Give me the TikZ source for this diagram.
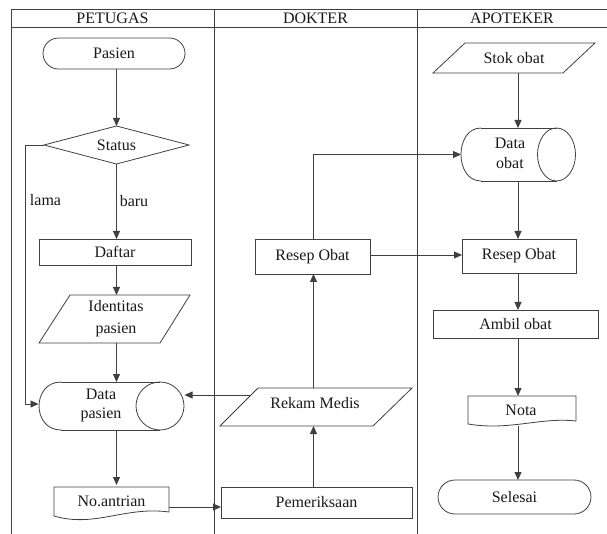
\documentclass[tikz,border=0pt]{standalone}
\usepackage{fontspec}
\setmainfont{Liberation Serif}
\usetikzlibrary{arrows.meta,calc}
\begin{document}
\begin{tikzpicture}[x=1pt,y=-1pt,
  line/.style={draw=black!75,line width=0.8pt},
  arr/.style={line,-{Triangle[length=8pt,width=7pt]}},
  txt/.style={font=\fontsize{16}{20}\selectfont,text=black!90,align=center,inner sep=0pt},
  anchorbox/.style={draw=none,inner sep=0pt,outer sep=0pt},
  rectbox/.style={line,inner sep=0pt,outer sep=0pt,txt}
]
\useasboundingbox (0,0) rectangle (607,534);
% frame
\draw[line] (620,9.5) -- (11.5,9.5) -- (11.5,540);
\draw[line] (11.5,27.5) -- (620,27.5);
\draw[line] (214,9.5) -- (214,540);
\draw[line] (417,9.5) -- (417,540);
\node[txt] (hp) at (112.5,18.5) {PETUGAS};
\node[txt] (hd) at (315.5,18.5) {DOKTER};
\node[txt] (ha) at (512,18.5) {APOTEKER};

% Pasien terminator
\node[rectbox,rounded corners=15.5pt,minimum width=142pt,minimum height=31pt] (pasien) at (114,53.5) {Pasien};
% Status diamond
\draw[line] (44,145) -- (116.5,126) -- (189,145) -- (116.5,164) -- cycle;
\node[anchorbox,minimum width=145pt,minimum height=38pt] (status) at (116.5,145) {};
\node[txt] at (116.5,145) {Status};
% Daftar
\node[rectbox,minimum width=152pt,minimum height=26pt] (daftar) at (115,252) {Daftar};
% Identitas pasien
\draw[line] (70,295) -- (190,295) -- (160,343) -- (39,343) -- cycle;
\node[anchorbox,minimum width=151pt,minimum height=48pt] (ident) at (114.5,319) {};
\node[txt,font=\fontsize{16}{22}\selectfont] at (116,319) {Identitas\\pasien};
% Data pasien (stored data)
\draw[line] (61,382) -- (160,382);
\draw[line] (160,430) -- (61,430);
\draw[line] (61,382) .. controls (31.7,382) and (31.7,430) .. (61,430);
\draw[line] (160,406) ellipse (24 and 24);
\node[anchorbox,minimum width=146pt,minimum height=48pt] (datap) at (111.5,406) {};
\node[txt,font=\fontsize{16}{19}\selectfont] at (101,405) {Data\\pasien};
% No.antrian document
\draw[line] (54,487) -- (169,487) -- (169,512) .. controls (125,506) and (95,528) .. (54,516) -- cycle;
\node[anchorbox,minimum width=115pt,minimum height=30pt] (noant) at (111.5,500) {};
\node[txt] at (111.5,501) {No.antrian};

% Pemeriksaan
\node[rectbox,minimum width=191pt,minimum height=31pt] (periksa) at (316.5,502.5) {Pemeriksaan};
% Rekam Medis
\draw[line] (258,388) -- (412,388) -- (373,426) -- (220,426) -- cycle;
\node[anchorbox,minimum width=192pt,minimum height=38pt] (rekam) at (316,407) {};
\node[txt] at (315,403) {Rekam Medis};
% Resep Obat (dokter)
\node[rectbox,minimum width=115pt,minimum height=35pt] (resepd) at (312.5,256.5) {Resep Obat};

% Stok obat
\draw[line] (465,43) -- (595,43) -- (563,73) -- (433,73) -- cycle;
\node[anchorbox,minimum width=162pt,minimum height=30pt] (stok) at (514,58) {};
\node[txt] at (514,58) {Stok obat};
% Data obat
\draw[line] (481,128) -- (556.5,128);
\draw[line] (556.5,181) -- (481,181);
\draw[line] (481,128) .. controls (454.3,128) and (454.3,181) .. (481,181);
\draw[line] (556.5,154.5) ellipse (19 and 26.5);
\node[anchorbox,minimum width=115pt,minimum height=53pt] (datao) at (518.5,154.5) {};
\node[txt,font=\fontsize{16}{20.5}\selectfont] at (510,153.5) {Data\\obat};
% Resep Obat (apoteker)
\node[rectbox,minimum width=114pt,minimum height=34pt] (resepa) at (519,256) {Resep Obat};
% Ambil obat
\node[rectbox,minimum width=165pt,minimum height=28pt] (ambil) at (515.5,324) {Ambil obat};
% Nota document
\draw[line] (468,396) -- (576,396) -- (576,421) .. controls (540,417) and (510,431) .. (468,424) -- cycle;
\node[anchorbox,minimum width=108pt,minimum height=30pt] (nota) at (522,411) {};
\node[txt] at (521,410.5) {Nota};
% Selesai
\node[rectbox,rounded corners=17pt,minimum width=153pt,minimum height=34pt] (selesai) at (514.5,497) {Selesai};

% column coordinates
\coordinate (cP) at (116.5,0);
\coordinate (cD) at (313.5,0);
\coordinate (cA) at (518,0);
\coordinate (lamaX) at (25,0);

% connectors PETUGAS
\draw[arr] (pasien.south -| cP) -- (status.north);
\draw[arr] (status.south) -- (daftar.north -| cP);
\node[txt] (baru) at (134,201) {baru};
\draw[arr] (daftar.south -| cP) -- (ident.north -| cP);
\draw[arr] (ident.south -| cP) -- (datap.north -| cP);
\draw[arr] (datap.south -| cP) -- (noant.north -| cP);
\coordinate (lamaY) at (0,404);
\draw[arr] (status.west) -- (status.west -| lamaX) -- (lamaX |- lamaY) -- (datap.west |- lamaY);
\node[txt] (lama) at (45.5,200) {lama};
\coordinate (antY) at (0,507);
\draw[arr] (noant.east |- antY) -- (periksa.west |- antY);

% connectors DOKTER
\draw[arr] (periksa.north -| cD) -- (rekam.south -| cD);
\coordinate (rmY) at (0,395);
\coordinate (rmX) at (250,0);
\draw[arr] (rmX |- rmY) -- (datap.east |- rmY);
\draw[arr] (rekam.north -| cD) -- (resepd.south -| cD);
\draw[arr] (resepd.north -| cD) -- (cD |- datao.west) -- (datao.west);
\coordinate (roY) at (0,255);
\draw[arr] (resepd.east |- roY) -- (resepa.west |- roY);

% connectors APOTEKER
\draw[arr] (stok.south -| cA) -- (datao.north -| cA);
\draw[arr] (datao.south -| cA) -- (resepa.north -| cA);
\draw[arr] (resepa.south -| cA) -- (ambil.north -| cA);
\draw[arr] (ambil.south -| cA) -- (nota.north -| cA);
\draw[arr] (nota.south -| cA) -- (selesai.north -| cA);
\end{tikzpicture}
\end{document}
